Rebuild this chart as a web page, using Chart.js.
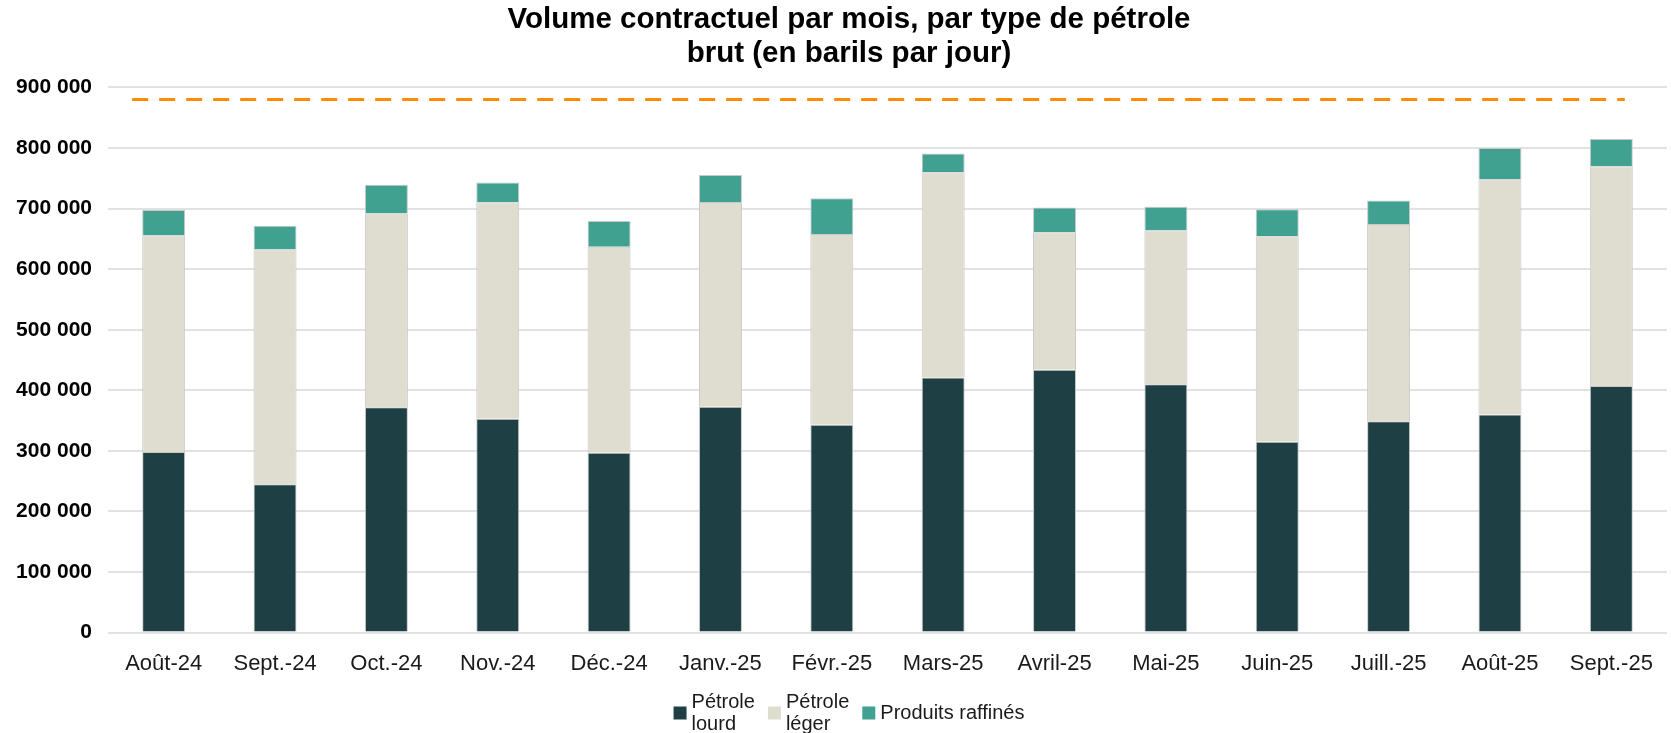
<!DOCTYPE html>
<html>
<head>
  <title>Volume contractuel par mois, par type de pétrole brut</title>
  <script src="https://cdn.jsdelivr.net/npm/chart.js@4.4.1/dist/chart.umd.min.js"></script>
  <style>
    body {
      margin: 0;
      padding: 0;
      overflow: hidden;
      background: #fff;
    }
    .chart-container {
      position: relative;
      width: 1671px;
      height: 733px;
    }
  </style>
</head>
<body>
  <div class="chart-container">
    <canvas id="volumeChart"></canvas>
  </div>

  <script>
    // Data (barils par jour)
    const months = ['Août-24', 'Sept.-24', 'Oct.-24', 'Nov.-24', 'Déc.-24', 'Janv.-25', 'Févr.-25',
      'Mars-25', 'Avril-25', 'Mai-25', 'Juin-25', 'Juill.-25', 'Août-25', 'Sept.-25'];
    const heavyCrude = [298000, 245000, 372000, 353000, 297000, 373000, 343000,
      421000, 434000, 410000, 315000, 349000, 360000, 407000];
    const lightCrude = [357500, 387500, 320000, 357500, 340000, 338000, 315000,
      339000, 227000, 254000, 339500, 325500, 388000, 363000];
    const refinedProducts = [42000, 39000, 47500, 32500, 42500, 44500, 59000,
      31000, 41000, 39000, 44500, 39000, 52000, 45000];
    const seriesNames = ['Pétrole lourd', 'Pétrole léger', 'Produits raffinés'];
    const yTicks = [0, 100000, 200000, 300000, 400000, 500000, 600000, 700000, 800000, 900000];
    const capacityLevel = 880000;

    const FONT = 'Liberation Sans, Arial, Helvetica, sans-serif';

    function formatThousands(v) {
      return String(v).replace(/\B(?=(\d{3})+(?!\d))/g, ' ');
    }

    // dashed orange capacity line across the bars
    const capacityLine = {
      id: 'capacityLine',
      afterDatasetsDraw(chart) {
        const bars = chart.getDatasetMeta(0).data;
        const first = bars[0];
        const last = bars[bars.length - 1];
        const y = chart.scales.y.getPixelForValue(capacityLevel);
        const ctx = chart.ctx;
        ctx.save();
        ctx.strokeStyle = '#ff8c00';
        ctx.lineWidth = 3;
        ctx.setLineDash([16, 11]);
        ctx.beginPath();
        ctx.moveTo(first.x - first.width / 2 - 10, y);
        ctx.lineTo(last.x + last.width / 2 - 8, y);
        ctx.stroke();
        ctx.restore();
      }
    };

    // the original centres title and legend a bit right of the canvas middle
    const shiftTitle = {
      id: 'shiftTitle',
      afterLayout(chart) {
        chart.titleBlock.left += 30;
      }
    };

    // legend with "Pétrole" names wrapped on two lines, box centred on the block
    const wrappedLegend = {
      id: 'wrappedLegend',
      afterDraw(chart) {
        const ctx = chart.ctx;
        const box = 13, gapBox = 5, gapItem = 13, lineH = 22;
        const items = chart.data.datasets.map(ds => ({
          color: ds.backgroundColor,
          lines: ds.label.startsWith('Pétrole') ? ds.label.split(' ') : [ds.label]
        }));
        ctx.save();
        ctx.font = '20px ' + FONT;
        items.forEach(it => {
          it.width = box + gapBox + Math.max(...it.lines.map(l => ctx.measureText(l).width));
        });
        const total = items.reduce((s, it) => s + it.width, 0) + gapItem * (items.length - 1);
        let x = (chart.titleBlock.left + chart.titleBlock.right) / 2 - total / 2;
        const cy = chart.height - 20;
        ctx.textBaseline = 'middle';
        ctx.textAlign = 'left';
        items.forEach(it => {
          ctx.fillStyle = it.color;
          ctx.fillRect(x, cy - box / 2, box, box);
          ctx.fillStyle = '#1a1a1a';
          const y0 = cy - (it.lines.length - 1) * lineH / 2;
          it.lines.forEach((l, i) => ctx.fillText(l, x + box + gapBox, y0 + i * lineH));
          x += it.width + gapItem;
        });
        ctx.restore();
      }
    };

    const ctx = document.getElementById('volumeChart').getContext('2d');
    const barStyle = { borderColor: '#c8c8c8', borderWidth: 1, barPercentage: 0.386, categoryPercentage: 1 };

    new Chart(ctx, {
      type: 'bar',
      data: {
        labels: months,
        datasets: [
          Object.assign({ label: seriesNames[0], data: heavyCrude, backgroundColor: '#1e3f44' }, barStyle),
          Object.assign({ label: seriesNames[1], data: lightCrude, backgroundColor: '#dfddd0' }, barStyle),
          Object.assign({ label: seriesNames[2], data: refinedProducts, backgroundColor: '#40a190' }, barStyle)
        ]
      },
      plugins: [capacityLine, shiftTitle, wrappedLegend],
      options: {
        responsive: true,
        maintainAspectRatio: false,
        animation: false,
        layout: {
          padding: { left: 0, right: 3, top: 0, bottom: 38 }
        },
        plugins: {
          title: {
            display: true,
            text: ['Volume contractuel par mois, par type de pétrole', 'brut (en barils par jour)'],
            color: '#000',
            font: { family: FONT, size: 29.5, weight: 'bold', lineHeight: 1.16 },
            padding: { top: 3, bottom: 16 }
          },
          legend: { display: false },
          tooltip: {
            callbacks: {
              label: c => c.dataset.label + ' : ' + formatThousands(c.raw)
            }
          }
        },
        scales: {
          x: {
            stacked: true,
            grid: { display: false, drawTicks: false },
            border: { display: false },
            ticks: {
              color: '#1a1a1a',
              font: { family: FONT, size: 22 },
              padding: 18,
              maxRotation: 0,
              autoSkip: false
            }
          },
          y: {
            stacked: true,
            min: 0,
            max: 900000,
            afterFit(scale) { scale.width = 108; },
            afterBuildTicks(scale) { scale.ticks = yTicks.map(v => ({ value: v })); },
            grid: { color: '#e2e2e2', lineWidth: 2, drawTicks: false },
            border: { display: false },
            ticks: {
              color: '#000',
              font: { family: FONT, size: 21, weight: 'bold' },
              padding: 16,
              callback: v => formatThousands(v)
            }
          }
        }
      }
    });
  </script>
</body>
</html>
